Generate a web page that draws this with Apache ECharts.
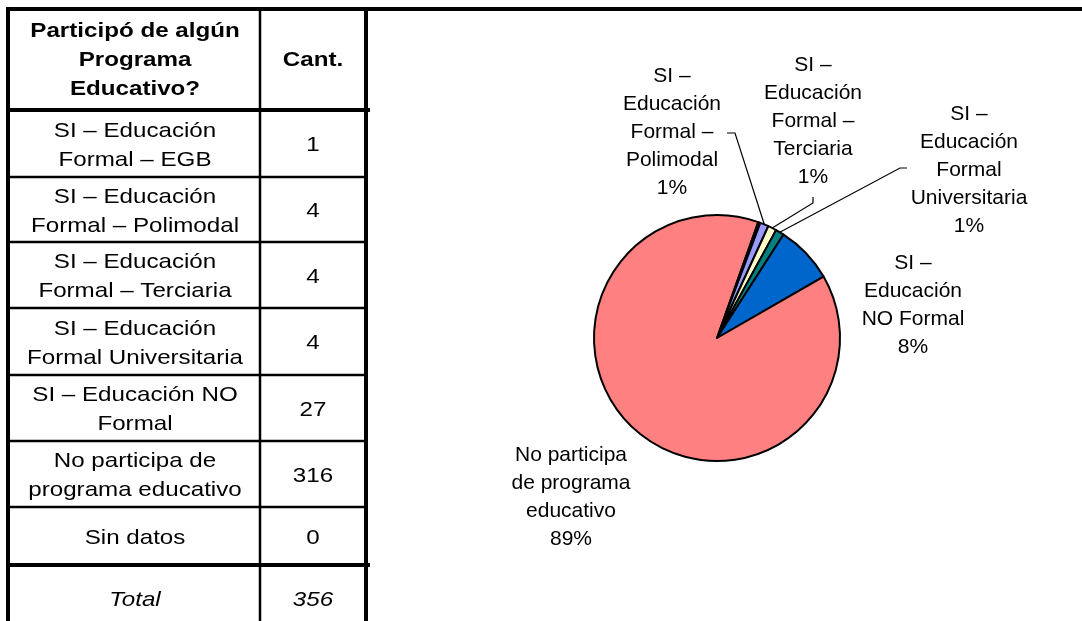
<!DOCTYPE html>
<html>
<head>
<meta charset="utf-8">
<script src="https://cdn.jsdelivr.net/npm/echarts@6/dist/echarts.min.js"></script>
<style>
  html, body { margin: 0; padding: 0; background: #fff; }
  #main { width: 1082px; height: 621px; }
</style>
</head>
<body>
<div id="main"></div>
<script>
// datos de la tabla / grafico
var categories = [
    'SI – Educación Formal – EGB',
    'SI – Educación Formal – Polimodal',
    'SI – Educación Formal – Terciaria',
    'SI – Educación Formal Universitaria',
    'SI – Educación NO Formal',
    'No participa de programa educativo',
    'Sin datos'
];
var counts = [1, 4, 4, 4, 27, 316, 0];
var headerLines = ['Participó de algún', 'Programa', 'Educativo?'];
var countHeader = 'Cant.';
var totalLabel = 'Total';
var tableLabels = [
    ['SI – Educación', 'Formal – EGB'],
    ['SI – Educación', 'Formal – Polimodal'],
    ['SI – Educación', 'Formal – Terciaria'],
    ['SI – Educación', 'Formal Universitaria'],
    ['SI – Educación NO', 'Formal'],
    ['No participa de', 'programa educativo'],
    ['Sin datos']
];
var pieLabels = [
    null,
    'SI –\nEducación\nFormal –\nPolimodal',
    'SI –\nEducación\nFormal –\nTerciaria',
    'SI –\nEducación\nFormal\nUniversitaria',
    'SI –\nEducación\nNO Formal',
    'No participa\nde programa\neducativo',
    null
];
var sliceColors = ['#660066', '#9999FF', '#FFFFCC', '#008080', '#0066CC', '#FF8080', '#CCCCFF'];

var total = counts.reduce(function (a, b) { return a + b; }, 0);

// posiciones (layout)
var FONT = '"Liberation Sans", Arial, sans-serif';
var rowEdges = [110, 177, 242, 308, 375, 441, 507, 565];
var colText = 135, colCount = 313;
var labelSpots = {
    1: { x: 672, y: 132, line: [[735, 133], [727, 133]] },
    2: { x: 813, y: 121, line: [[813, 203], [813, 197]] },
    3: { x: 969, y: 170, line: [[900, 168], [907, 168]] },
    4: { x: 913, y: 305 },
    5: { x: 571, y: 497 }
};

function hline(y, x1, x2, w) {
    return { type: 'line', shape: { x1: x1, y1: y, x2: x2, y2: y }, style: { stroke: '#000', lineWidth: w }, z: 5 };
}
function vline(x, y1, y2, w) {
    return { type: 'line', shape: { x1: x, y1: y1, x2: x, y2: y2 }, style: { stroke: '#000', lineWidth: w }, z: 5 };
}
function cellText(txt, x, y, extra) {
    var st = {
        text: txt, fill: '#000', fontSize: 21, fontFamily: FONT,
        align: 'center', verticalAlign: 'middle', lineHeight: 29
    };
    for (var k in extra) st[k] = extra[k];
    return { type: 'text', x: x, y: y, scaleX: 1.15, style: st, z: 6 };
}

var elements = [];
// bordes
elements.push(hline(9, 6, 1082, 4));
elements.push(vline(8, 7, 621, 4));
elements.push(vline(366, 7, 621, 4));
elements.push(vline(260, 9, 621, 2.5));
rowEdges.forEach(function (y, i) {
    var thick = (i === 0 || i === rowEdges.length - 1);
    elements.push(hline(y, 8, thick ? 370 : 366, thick ? 4 : 2.5));
});
// encabezado
elements.push(cellText(headerLines.join('\n'), colText, 60, { fontWeight: 'bold' }));
elements.push(cellText(countHeader, colCount, 60, { fontWeight: 'bold' }));
// filas
tableLabels.forEach(function (lines, i) {
    var cy = (rowEdges[i] + rowEdges[i + 1]) / 2 + 2;
    elements.push(cellText(lines.join('\n'), colText, cy, {}));
    elements.push(cellText(String(counts[i]), colCount, cy, {}));
});
elements.push(cellText(totalLabel, colText, 600, { fontStyle: 'italic' }));
elements.push(cellText(String(total), colCount, 600, { fontStyle: 'italic' }));

var pieData = categories.map(function (name, i) {
    var item = { name: name, value: counts[i], itemStyle: { color: sliceColors[i] } };
    if (!labelSpots[i] || !labelSpots[i].line) item.labelLine = { show: false };
    return item;
});

var myChart = echarts.init(document.getElementById('main'));
var option = {
    animation: false,
    backgroundColor: '#fff',
    graphic: { elements: elements },
    series: [{
        type: 'pie',
        center: [717, 338],
        radius: 123,
        startAngle: 70.4,
        clockwise: true,
        minShowLabelAngle: 2,
        avoidLabelOverlap: false,
        stillShowZeroSum: false,
        itemStyle: { borderColor: '#000', borderWidth: 2 },
        label: {
            show: true,
            position: 'outside',
            color: '#000',
            fontFamily: FONT,
            fontSize: 21,
            lineHeight: 28,
            align: 'center',
            formatter: function (p) {
                var pct = Math.round(p.value / total * 100);
                return (pieLabels[p.dataIndex] || p.name) + '\n' + pct + '%';
            }
        },
        labelLine: { show: true, lineStyle: { color: '#000', width: 1.2 } },
        labelLayout: function (params) {
            var s = labelSpots[params.dataIndex];
            if (!s) return {};
            var out = { x: s.x, y: s.y, align: 'center', verticalAlign: 'middle' };
            if (s.line && params.labelLinePoints) {
                out.labelLinePoints = [params.labelLinePoints[0]].concat(s.line);
            }
            return out;
        },
        emphasis: { disabled: true },
        data: pieData
    }]
};
myChart.setOption(option);
</script>
</body>
</html>
